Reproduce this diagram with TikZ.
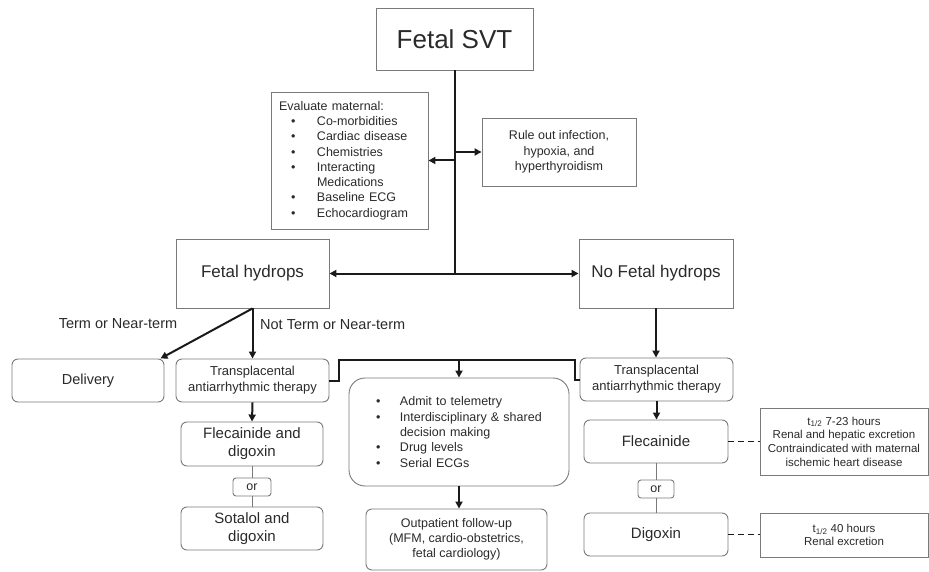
\documentclass[tikz,border=0pt]{standalone}
\usepackage{fontspec}
\setmainfont{Liberation Sans}
\usetikzlibrary{arrows.meta,calc}
\definecolor{txt}{HTML}{2A2A2A}
\definecolor{edge}{HTML}{7A7A7A}
\definecolor{ln}{HTML}{1A1A1A}
\newcommand\fs[2]{\fontsize{#1}{#2}\selectfont}
\newcommand\mybul[2]{\hspace*{#1}\makebox[#2][l]{\textbullet}}
\begin{document}
\begin{tikzpicture}[x=1pt,y=-1pt,
  wh/.style 2 args={minimum width=#1pt, minimum height=#2pt},
  box/.style={draw=edge, line width=0.9pt, text=txt, inner sep=0pt, align=center},
  rbox/.style={box, rounded corners=6pt},
  lbl/.style={text=txt, inner sep=0pt, font=\fs{14.5}{17}},
  arr/.style={draw=ln, line width=2pt, -{Triangle[length=7pt,width=7pt]}},
  trunk/.style={draw=ln, line width=2pt},
  thinln/.style={draw=edge, line width=0.9pt},
  dashln/.style={draw=ln, line width=1.4pt, dash pattern=on 6pt off 4pt},
]
\useasboundingbox (0,0) rectangle (929,572);

\node[box, wh={157}{62}, font=\fs{26}{30}] (svt) at (454.5,39) {Fetal SVT};
\node[box, wh={157}{137}, align=left, text width=141pt, inner xsep=8pt, font=\fs{12.5}{15.3}] (eval) at (349.5,160.5)
 {Evaluate maternal:\\
  \mybul{12pt}{26pt}Co-morbidities\\
  \mybul{12pt}{26pt}Cardiac disease\\
  \mybul{12pt}{26pt}Chemistries\\
  \mybul{12pt}{26pt}Interacting\\
  \hspace*{38pt}Medications\\
  \mybul{12pt}{26pt}Baseline ECG\\
  \mybul{12pt}{26pt}Echocardiogram};
\node[box, wh={154}{68}, font=\fs{12.5}{15.5}] (rule) at (559,152) {Rule out infection,\\hypoxia, and\\hyperthyroidism};

\node[box, wh={153}{69}, font=\fs{17}{20}] (hyd) at (252.5,273.5) {Fetal hydrops};
\node[box, wh={154}{69}, font=\fs{17}{20}] (nohyd) at (656,273.5) {No Fetal hydrops};

\node[lbl, anchor=center] (lterm) at (118,324) {Term or Near-term};
\node[lbl, anchor=west] (lnot) at (260,325) {Not Term or Near-term};

\node[rbox, wh={152}{43}, font=\fs{14.5}{17}] (deliv) at (88,380.5) {Delivery};
\node[rbox, wh={153}{43}, font=\fs{13}{16}] (tpl) at (252.5,380.5) {Transplacental\\antiarrhythmic therapy};
\node[rbox, wh={142}{44}, font=\fs{15}{18}] (fd) at (252,444) {Flecainide and\\digoxin};
\node[box, rounded corners=3pt, wh={38}{18}, font=\fs{12.5}{15}] (or1) at (252,487) {or};
\node[rbox, wh={142}{43}, font=\fs{15}{18}] (sd) at (252,528.5) {Sotalol and\\digoxin};

\node[box, rounded corners=16pt, wh={220}{108}, align=left, text width=190pt, inner xsep=15pt, font=\fs{12.5}{15.3}] (mid) at (459,432)
 {\mybul{12pt}{24pt}Admit to telemetry\\
  \mybul{12pt}{24pt}Interdisciplinary \& shared\\
  \hspace*{36pt}decision making\\
  \mybul{12pt}{24pt}Drug levels\\
  \mybul{12pt}{24pt}Serial ECGs};
\node[rbox, wh={181}{61}, font=\fs{12.5}{15}] (out) at (456.5,539.5) {Outpatient follow-up\\(MFM, cardio-obstetrics,\\fetal cardiology)};

\node[rbox, wh={153}{43}, font=\fs{13}{16}] (tpr) at (656.5,379.5) {Transplacental\\antiarrhythmic therapy};
\node[rbox, wh={144}{43}, font=\fs{15}{18}] (fl) at (656,441.5) {Flecainide};
\node[box, rounded corners=3pt, wh={36}{18}, font=\fs{12.5}{15}] (or2) at (656,489) {or};
\node[rbox, wh={144}{43}, font=\fs{15}{18}] (dig) at (656,534.5) {Digoxin};

\node[box, wh={168}{67}, font=\fs{11.5}{13.7}] (info1) at (844,441.5) {t\textsubscript{1/2} 7-23 hours\\Renal and hepatic excretion\\Contraindicated with maternal\\ischemic heart disease};
\node[box, wh={168}{44}, font=\fs{11.5}{13.7}] (info2) at (844,535) {t\textsubscript{1/2} 40 hours\\Renal excretion};

% connectors
\draw[trunk] (svt.south) -- (svt.south |- hyd.east) coordinate (jn);
\draw[arr] (jn) -- (hyd.east);
\draw[arr] (jn) -- (nohyd.west);
\draw[arr] (svt.south |- eval.east) -- (eval.east);
\draw[arr] (svt.south |- rule.west) -- (rule.west);

\draw[arr] (hyd.south) -- ([xshift=-4pt]deliv.north east);
\draw[arr] (hyd.south) -- (tpl.north);
\draw[arr] (tpl.south) -- (fd.north);
\draw[thinln] (fd.south) -- (or1.north) (or1.south) -- (sd.north);

\coordinate (bl) at (339,360);
\coordinate (br) at (575,360);
\draw[trunk] (tpl.east) -- (tpl.east -| bl) -- (bl) -- (br) -- (br |- tpr.west) -- (tpr.west);
\draw[arr] (mid.north |- bl) -- (mid.north);
\draw[arr] (mid.south) -- (mid.south |- out.north);

\draw[arr] (nohyd.south) -- (nohyd.south |- tpr.north);
\draw[arr] (tpr.south) -- (tpr.south |- fl.north);
\draw[thinln] (fl.south) -- (or2.north) (or2.south) -- (dig.north);
\draw[dashln] (fl.east) -- (info1.west);
\draw[dashln] (dig.east) -- (dig.east -| info2.west);
\end{tikzpicture}
\end{document}
